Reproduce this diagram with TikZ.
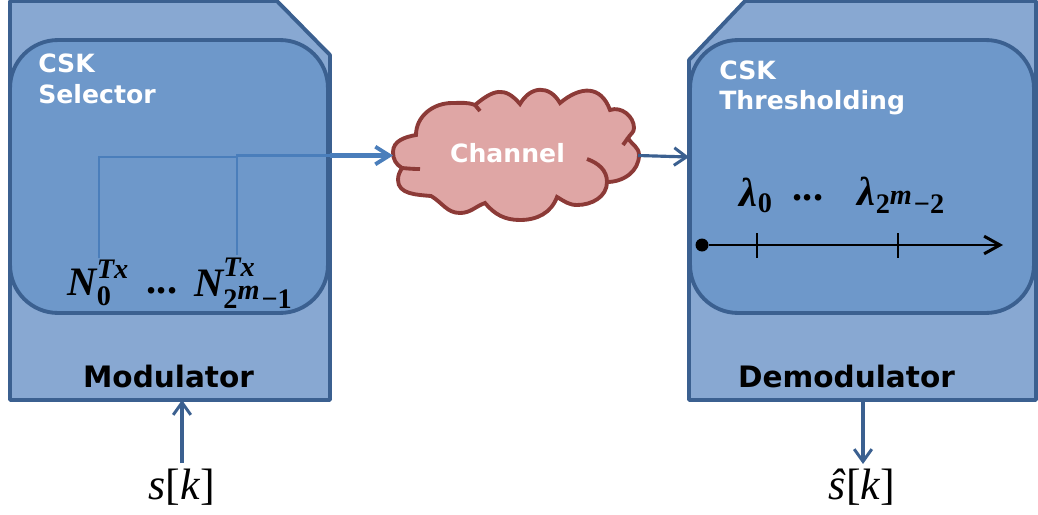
\documentclass[tikz,border=0pt]{standalone}
\usepackage{amsmath,amssymb}
\usepackage[no-math]{fontspec}
\usepackage{tikz}
\usetikzlibrary{arrows.meta}
\newfontfamily\labelfont{DejaVu Sans}
\newfontfamily\symbolfont{Liberation Serif}
\newcommand{\bsym}[1]{\text{\symbolfont\bfseries\itshape #1}}
\newcommand{\bnum}[1]{\text{\symbolfont\bfseries #1}}
\newcommand{\isym}[1]{\text{\symbolfont #1}}
\definecolor{boxfill}{HTML}{88A8D2}
\definecolor{innerfill}{HTML}{6E98CA}
\definecolor{boxline}{HTML}{3B6090}
\definecolor{flowline}{HTML}{4A7EBB}
\definecolor{cloudfill}{HTML}{DFA6A5}
\definecolor{cloudline}{HTML}{8C3A37}
\tikzset{
  outerbox/.style={draw=boxline,fill=boxfill,line width=2.2pt,line join=round},
  innerbox/.style={draw=boxline,fill=innerfill,line width=2.2pt,inner sep=0pt,rounded corners=0.96cm},
  whitelabel/.style={text=white,font=\labelfont\fontsize{14.3}{17}\selectfont\bfseries,inner sep=0pt},
  blacklabel/.style={text=black,font=\labelfont\fontsize{16.8}{20}\selectfont\bfseries,inner sep=0pt},
  mathlabel/.style={text=black,scale=2.3,inner sep=0pt},
  signallabel/.style={text=black,scale=2.5,inner sep=0pt},
  cloudedge/.style={draw=cloudline,line width=2.2pt},
  thinfeed/.style={draw=flowline,line width=1.7pt},
  iolink/.style={-{Straight Barb[length=7pt,width=10pt,line width=1.7pt]},draw=boxline,line width=1.8pt},
  axisline/.style={draw=black,line width=1.7pt}
}
\begin{document}
\begin{tikzpicture}[x=0.02cm,y=-0.02cm]
\useasboundingbox (0,0) rectangle (1038,514);

\draw[outerbox] (10,1) -- (277,1) -- (330,55) -- (330,400) -- (10,400) -- cycle;
\draw[outerbox] (745,1) -- (1036,1) -- (1036,400) -- (689,400) -- (689,60) -- cycle;

\node[innerbox,minimum width=6.36cm,minimum height=5.46cm] (selector) at (169,176.5) {};
\node[innerbox,minimum width=6.88cm,minimum height=5.46cm] (thresholding) at (862,176.5) {};

\node[whitelabel,align=left,anchor=north west] (selectorlabel) at (38,54) {CSK\\[0.5pt]Selector};
\node[whitelabel,align=left,anchor=north west] (thresholdinglabel) at (719,60) {CSK\\[0.5pt]Thresholding};
\node[blacklabel] (modulatorlabel) at (168.5,376) {Modulator};
\node[blacklabel] (demodulatorlabel) at (846.5,376) {Demodulator};

\node[mathlabel] (nzero) at (99,283) {$\bsym{N}_{\bnum{0}}^{\bsym{Tx}}$};
\node[mathlabel] (ndots) at (162,291) {\bnum{...}};
\node[mathlabel] (nlast) at (244,283) {$\bsym{N}_{\bnum{2}^{\scriptstyle\bsym{m}}\bnum{−1}}^{\text{\raisebox{0.8pt}{\symbolfont\bfseries\itshape Tx}}}$};
\node[mathlabel] (lzero) at (757,195) {$\bsym{λ}_{\bnum{0}}$};
\node[mathlabel] (ldots) at (808,198) {\bnum{...}};
\node[mathlabel] (llast) at (902,195) {$\bsym{λ}_{\bnum{2}^{\scriptstyle\bsym{m}}\bnum{−2}}$};

\node[signallabel] (input) at (182,487) {\isym{\textit{s}[\textit{k}]}};
\node[signallabel] (output) at (862,487) {\isym{\textit{ŝ}[\textit{k}]}};

\draw[cloudedge,fill=cloudfill]
  (416,135) to[out=90,in=180] (452,103) to[out=0,in=160] (475,105)
  to[out=40,in=130,looseness=1.35] (520,104)
  to[out=60,in=120,looseness=1.35] (560,103) to[out=40,in=110,looseness=1.35] (610,110)
  to[out=20,in=90] (634,128) to[out=-90,in=60] (628,138)
  to[out=-60,in=90] (639,155) to[out=-90,in=0] (607,182)
  to[out=-90,in=0] (577,205) to[out=180,in=-30] (557,197)
  to[out=-110,in=0] (520,220) to[out=180,in=-50] (485,203)
  to[out=-160,in=0] (460,213) to[out=180,in=-30] (431,196)
  to[out=175,in=-90] (398,180) to[out=90,in=-120] (402,168)
  to[out=150,in=-90] (393,152) to[out=90,in=-170] cycle;
\draw[cloudedge] (587,159) to[out=-20,in=90] (607,182);
\draw[cloudedge] (628,138) -- (623,145);
\draw[cloudedge] (475,105) -- (480,111);
\draw[cloudedge] (402,168) to[out=-5,in=180] (420,169);
\node[whitelabel] (channel) at (507.5,153) {Channel};
\coordinate (cloudwest) at (393,155.5);
\coordinate (cloudeast) at (638,155.5);

\coordinate (tapzero) at (99,258);
\coordinate (tapzerotop) at (99,157);
\coordinate (taplast) at (237,255);
\coordinate (taplasttop) at (237,155.5);
\coordinate (boxexit) at (330,155.5);
\coordinate (demodentry) at (689,157);
\coordinate (modbottom) at (182,400);
\coordinate (inputtop) at (182,463);
\coordinate (demodbottom) at (863,400);
\coordinate (outputtop) at (863,464);

\draw[thinfeed] (tapzero) -- (tapzerotop) -- (taplast |- tapzerotop);
\draw[thinfeed] (taplast) -- (taplasttop) -- (boxexit);
\draw[-{Straight Barb[length=8pt,width=10pt,line width=2.2pt]},draw=flowline,line width=2.4pt] (boxexit) -- (cloudwest);

\foreach \from/\to in {cloudeast/demodentry, inputtop/modbottom, demodbottom/outputtop}
	\draw[iolink] (\from) -- (\to);

\node[circle,fill=black,inner sep=0pt,minimum size=0.26cm] (axisstart) at (702,245) {};
\coordinate (axisend) at (1003,245);
\draw[axisline,-{Straight Barb[length=9pt,width=10pt,line width=1.7pt]}] (axisstart) -- (axisend);

\foreach \tick in {757,898}
	\draw[draw=black,line width=1pt] (\tick,233) -- (\tick,258);
\end{tikzpicture}
\end{document}
